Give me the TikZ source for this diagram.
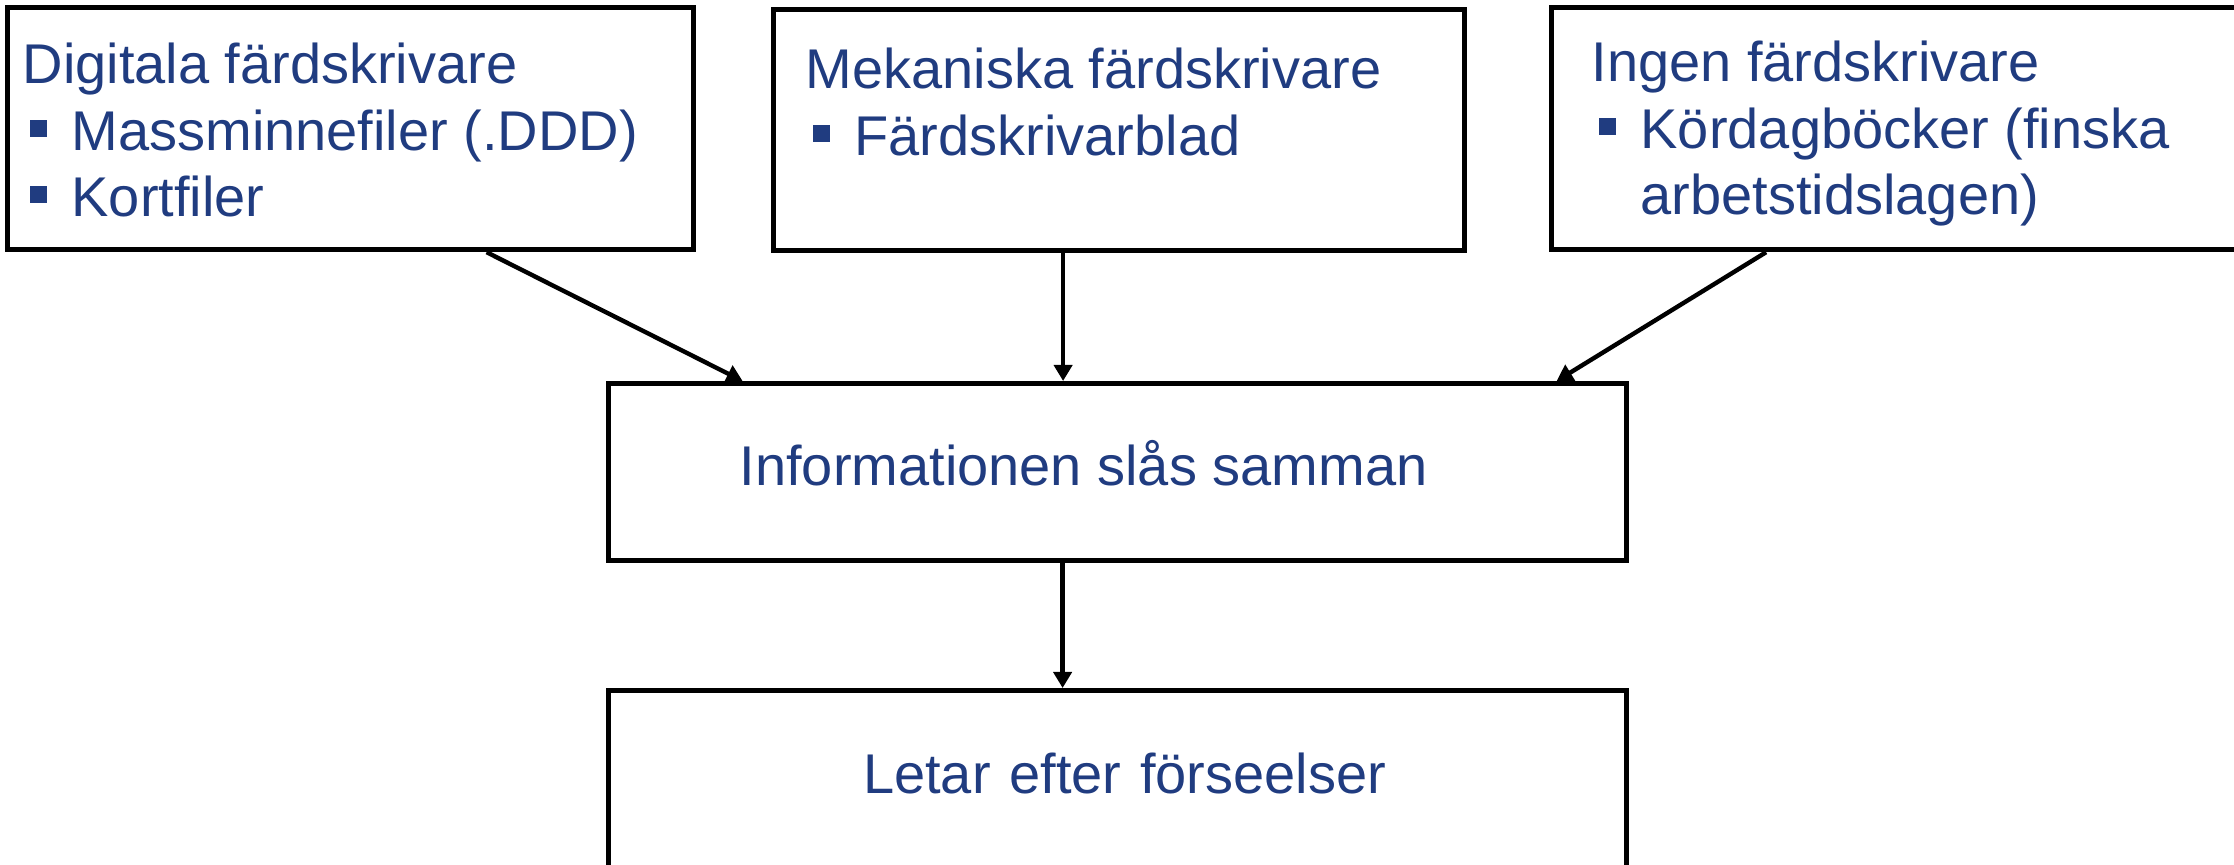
\documentclass[tikz,border=0pt]{standalone}
\usepackage{fontspec}
\setmainfont{Liberation Sans}
\usepackage{tikz}
\usepackage{xcolor}
\usetikzlibrary{arrows.meta}
\definecolor{slideblue}{RGB}{32,60,128}
\newcommand{\sqitem}[1]{\par\noindent\hangindent=24.5pt\hangafter=1\hbox to 24.5pt{\hspace{3.5pt}\rule[6.75pt]{8.5pt}{8.5pt}\hfil}#1\par}
\tikzset{
    flow-box/.style = {draw=black, line width=2.6pt, rectangle, anchor=north west, inner ysep=0pt, align=flush left, text=slideblue, font=\fontsize{28pt}{33.25pt}\selectfont},
    flow-arrow/.style = {-{Triangle[length=8pt,width=9pt]}, line width=2.2pt},
}

\begin{document}
\begin{tikzpicture}[x=0.5pt, y=-0.5pt]
\useasboundingbox (0,0) rectangle (2234,865);
\node[flow-box, inner xsep=7.5pt, text width=328pt, text height=38pt, text depth=83pt] (digital) at (5,5) {Digitala färdskrivare
    \sqitem{Massminnefiler (.DDD)}
    \sqitem{Kortfiler}};
\node[flow-box, inner xsep=16pt, text width=313.5pt, text height=39.5pt, text depth=81pt] (mechanical) at (771,7) {Mekaniska färdskrivare
    \sqitem{Färdskrivarblad}};
\node[flow-box, inner xsep=20pt, text width=304.5pt, text height=37pt, text depth=84pt] (norecorder) at (1549,5) {Ingen färdskrivare
    \sqitem{Kördagböcker (finska arbetstidslagen)}};
\node[flow-box, inner xsep=65.5pt, text width=378pt, text height=51pt, text depth=37.5pt] (merged) at (606,381) {Informationen slås samman};
\node[flow-box, inner xsep=0pt, text width=509pt, text height=51.5pt, text depth=60pt, align=center] (search) at (606,688) {\hspace*{7pt}Letar efter förseelser};

\draw[flow-arrow] ([xshift=68pt]digital.south) -- ([xshift=-187.5pt]merged.north);
\draw[flow-arrow] ([xshift=-28pt]mechanical.south) -- ([xshift=-28pt]mechanical.south |- merged.north);
\draw[flow-arrow] ([xshift=-65pt]norecorder.south) -- ([xshift=219.5pt]merged.north);
\draw[flow-arrow] ([xshift=-27.5pt]merged.south) -- ([xshift=-27.5pt]merged.south |- search.north);
\end{tikzpicture}
\end{document}
